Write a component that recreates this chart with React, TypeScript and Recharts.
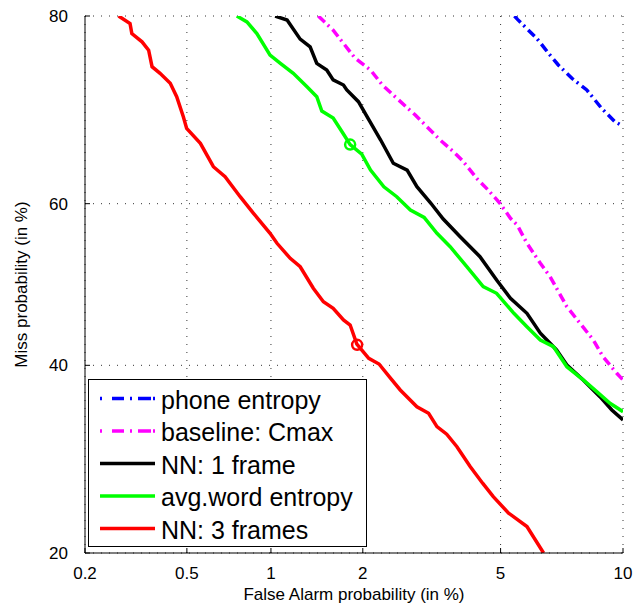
import React from "react";
import {
  ComposedChart,
  Line,
  XAxis,
  YAxis,
  CartesianGrid,
  ReferenceDot,
  Label,
} from "recharts";

const FONT = "'Liberation Sans', Arial, Helvetica, sans-serif";

const X_TICKS = [0.2, 0.5, 1, 2, 5, 10];
const Y_TICKS = [20, 40, 60, 80];

// [false alarm %, miss %]
const PHONE_ENTROPY = [
  [5.44, 80], [5.54, 79.7], [6.21, 77.98], [6.65, 76.56], [7.03, 75.43],
  [7.59, 74.1], [8.24, 72.9], [8.93, 70.96], [9.59, 69.5], [10, 69.03],
];
const BASELINE_CMAX = [
  [1.442, 80], [1.611, 78.73], [1.738, 77.51], [1.893, 76.09], [2.114, 74.93],
  [2.298, 73.41], [2.51, 72.2], [2.885, 70.24], [3.12, 68.95], [3.406, 67.47],
  [3.717, 66.14], [3.961, 64.99], [4.312, 63.03], [4.633, 61.64], [4.98, 60.05],
  [5.31, 58.22], [5.53, 57.4], [5.86, 55.14], [6.34, 52.65], [6.71, 50.97],
  [7.38, 47.22], [7.94, 45.16], [8.54, 43.1], [9.0, 41.05], [9.68, 39.04],
  [10, 38.24],
];
const NN_1_FRAME = [
  [1.034, 80], [1.135, 79.64], [1.256, 77.91], [1.355, 77.18], [1.425, 75.59],
  [1.536, 74.93], [1.611, 73.93], [1.738, 73.41], [1.781, 72.9], [1.938, 71.67],
  [2.062, 70.05], [2.271, 67.47], [2.481, 64.8], [2.729, 64.01], [2.917, 62.04],
  [3.191, 60.14], [3.476, 58.13], [3.88, 55.95], [4.4, 53.47], [4.88, 50.56],
  [5.31, 48.27], [5.86, 46.4], [6.34, 43.93], [6.96, 41.87], [7.38, 40.04],
  [8.08, 38.24], [8.85, 36.26], [9.43, 34.7], [10, 33.56],
];
const AVG_WORD_ENTROPY = [
  [0.76, 80], [0.825, 79.48], [0.894, 78.43], [0.993, 76.4], [1.077, 75.59],
  [1.191, 74.6], [1.323, 73.23], [1.425, 72.2], [1.48, 70.67], [1.611, 69.91],
  [1.738, 68.14], [1.825, 66.95], [1.985, 65.87], [2.114, 64.0], [2.323, 62.03],
  [2.541, 60.84], [2.791, 59.23], [3.062, 58.32], [3.335, 56.37], [3.637, 54.72],
  [4.048, 52.22], [4.49, 49.73], [4.88, 48.9], [5.42, 46.4], [5.86, 44.74],
  [6.34, 43.1], [6.84, 42.27], [7.38, 39.83], [8.08, 38.24], [8.7, 36.85],
  [9.34, 35.48], [10, 34.51],
];
const NN_3_FRAMES = [
  [0.273, 80], [0.303, 79.34], [0.308, 78.43], [0.3375, 77.66], [0.358, 76.87],
  [0.369, 75.26], [0.396, 74.6], [0.433, 73.59], [0.458, 72.2], [0.485, 70.05],
  [0.499, 68.77], [0.561, 67.09], [0.626, 64.4], [0.69, 63.22], [0.781, 60.84],
  [0.87, 58.83], [0.993, 56.37], [1.049, 55.14], [1.163, 53.27], [1.256, 52.22],
  [1.388, 49.53], [1.498, 47.85], [1.611, 47.03], [1.738, 45.57], [1.825, 44.95],
  [1.916, 42.6], [2.087, 40.85], [2.245, 40.16], [2.429, 38.48], [2.603, 37.05],
  [2.917, 35.08], [3.155, 34.32], [3.335, 32.8], [3.556, 31.95], [3.8, 30.56],
  [4.135, 28.41], [4.474, 26.67], [4.78, 25.3], [5.25, 23.68], [5.86, 22.4],
  [6.46, 20],
];

// operating points (circles)
const AVG_WORD_POINT = [1.825, 66.95];
const NN_3_POINT = [1.92, 42.5];

const SERIES = [
  { name: "phone entropy", data: PHONE_ENTROPY, color: "#0000FF", dash: "9 4 2 4.5" },
  { name: "baseline: Cmax", data: BASELINE_CMAX, color: "#FF00FF", dash: "9 4 2 4.5" },
  { name: "NN: 1 frame", data: NN_1_FRAME, color: "#000000", dash: undefined },
  { name: "avg.word entropy", data: AVG_WORD_ENTROPY, color: "#00FF00", dash: undefined },
  { name: "NN: 3 frames", data: NN_3_FRAMES, color: "#FF0000", dash: undefined },
];

// inverse of the standard normal CDF (Acklam)
function probit(p: number): number {
  const a = [-39.69683028665376, 220.9460984245205, -275.9285104469687, 138.357751867269, -30.66479806614716, 2.506628277459239];
  const b = [-54.47609879822406, 161.5858368580409, -155.6989798598866, 66.80131188771972, -13.28068155288572];
  const c = [-0.007784894002430293, -0.3223964580411365, -2.400758277161838, -2.549732539343734, 4.374664141464968, 2.938163982698783];
  const d = [0.007784695709041462, 0.3224671290700398, 2.445134137142996, 3.754408661907416];
  const pl = 0.02425;
  if (p < pl) {
    const q = Math.sqrt(-2 * Math.log(p));
    return (((((c[0] * q + c[1]) * q + c[2]) * q + c[3]) * q + c[4]) * q + c[5]) /
      ((((d[0] * q + d[1]) * q + d[2]) * q + d[3]) * q + 1);
  }
  if (p > 1 - pl) {
    const q = Math.sqrt(-2 * Math.log(1 - p));
    return -(((((c[0] * q + c[1]) * q + c[2]) * q + c[3]) * q + c[4]) * q + c[5]) /
      ((((d[0] * q + d[1]) * q + d[2]) * q + d[3]) * q + 1);
  }
  const q = p - 0.5;
  const r = q * q;
  return ((((((a[0] * r + a[1]) * r + a[2]) * r + a[3]) * r + a[4]) * r + a[5]) * q) /
    (((((b[0] * r + b[1]) * r + b[2]) * r + b[3]) * r + b[4]) * r + 1);
}

const toDet = (pts: number[][]) =>
  pts.map(([fa, miss]) => ({ x: probit(fa / 100), y: probit(miss / 100) }));

const X_DOMAIN = [probit(X_TICKS[0] / 100), probit(X_TICKS[X_TICKS.length - 1] / 100)];
const Y_DOMAIN = [probit(Y_TICKS[0] / 100), probit(Y_TICKS[Y_TICKS.length - 1] / 100)];
const X_TICK_POS = X_TICKS.map((v) => probit(v / 100));
const Y_TICK_POS = Y_TICKS.map((v) => probit(v / 100));

const TICK_LEN = 5;
const X_MARGIN = 14;
const Y_MARGIN = 17;

const BottomTick = (props: any) => {
  const { x, y, index } = props;
  const axisY = y - X_MARGIN;
  return (
    <g>
      <line x1={x} x2={x} y1={axisY} y2={axisY - TICK_LEN} stroke="#000" />
      <text x={x} y={y} dy="0.71em" textAnchor="middle" fontSize={17} fontFamily={FONT} fill="#000">
        {String(X_TICKS[index])}
      </text>
    </g>
  );
};

const LeftTick = (props: any) => {
  const { x, y, index } = props;
  const axisX = x + Y_MARGIN;
  return (
    <g>
      <line x1={axisX} x2={axisX + TICK_LEN} y1={y} y2={y} stroke="#000" />
      <text x={x} y={y} dy="0.355em" textAnchor="end" fontSize={17} fontFamily={FONT} fill="#000">
        {String(Y_TICKS[index])}
      </text>
    </g>
  );
};

const TopTick = (props: any) => {
  const { x, y } = props;
  return <line x1={x} x2={x} y1={y} y2={y + TICK_LEN} stroke="#000" />;
};

const RightTick = (props: any) => {
  const { x, y } = props;
  return <line x1={x} x2={x - TICK_LEN} y1={y} y2={y} stroke="#000" />;
};

const XTitle = (props: any) => {
  const vb = props.viewBox;
  return (
    <text x={vb.x + vb.width / 2} y={vb.y + 47} textAnchor="middle" fontSize={17} fontFamily={FONT} fill="#000">
      False Alarm probability (in %)
    </text>
  );
};

const YTitle = (props: any) => {
  const vb = props.viewBox;
  const cx = vb.x + 21;
  const cy = vb.y + vb.height / 2;
  return (
    <text
      x={cx}
      y={cy}
      transform={`rotate(-90 ${cx} ${cy})`}
      textAnchor="middle"
      dominantBaseline="central"
      fontSize={17}
      fontFamily={FONT}
      fill="#000"
    >
      Miss probability (in %)
    </text>
  );
};

const LegendBox = () => (
  <svg
    width={280}
    height={169}
    style={{ position: "absolute", left: 88, top: 379 }}
  >
    <rect x={0.5} y={0.5} width={278} height={167} fill="#fff" stroke="#000" />
    {SERIES.map((s, i) => (
      <g key={s.name}>
        <line
          x1={12}
          x2={67}
          y1={19.5 + 32.5 * i}
          y2={19.5 + 32.5 * i}
          stroke={s.color}
          strokeWidth={3.5}
          strokeDasharray={s.dash ? "2 10 12 6 2 6 13" : undefined}
        />
        <text x={73} y={29.5 + 32.5 * i} fontSize={25} fontFamily={FONT} fill="#000">
          {s.name}
        </text>
      </g>
    ))}
  </svg>
);

export default function App() {
  return (
    <div style={{ position: "absolute", left: 0, top: 0, width: 636, height: 605, background: "#fff" }}>
      <ComposedChart width={636} height={605} margin={{ top: 16, right: 13, bottom: 0, left: 0 }}>
        <CartesianGrid stroke="#333" strokeDasharray="1 7" />
        <XAxis
          type="number"
          dataKey="x"
          domain={X_DOMAIN}
          ticks={X_TICK_POS}
          interval={0}
          allowDataOverflow
          height={52}
          tickSize={0}
          tickMargin={X_MARGIN}
          tickLine={false}
          axisLine={{ stroke: "#000" }}
          tick={<BottomTick />}
        >
          <Label content={<XTitle />} />
        </XAxis>
        <XAxis
          xAxisId="top"
          orientation="top"
          type="number"
          dataKey="x"
          domain={X_DOMAIN}
          ticks={X_TICK_POS}
          interval={0}
          allowDataOverflow
          height={0}
          tickSize={0}
          tickMargin={0}
          tickLine={false}
          axisLine={{ stroke: "#000" }}
          tick={<TopTick />}
        />
        <YAxis
          type="number"
          domain={Y_DOMAIN}
          ticks={Y_TICK_POS}
          interval={0}
          allowDataOverflow
          width={85}
          tickSize={0}
          tickMargin={Y_MARGIN}
          tickLine={false}
          axisLine={{ stroke: "#000" }}
          tick={<LeftTick />}
        >
          <Label content={<YTitle />} />
        </YAxis>
        <YAxis
          yAxisId="right"
          orientation="right"
          type="number"
          domain={Y_DOMAIN}
          ticks={Y_TICK_POS}
          interval={0}
          allowDataOverflow
          width={0}
          tickSize={0}
          tickMargin={0}
          tickLine={false}
          axisLine={{ stroke: "#000" }}
          tick={<RightTick />}
        />
        {SERIES.map((s) => (
          <Line
            key={s.name}
            data={toDet(s.data)}
            dataKey="y"
            type="linear"
            stroke={s.color}
            strokeWidth={3.5}
            strokeDasharray={s.dash}
            dot={false}
            activeDot={false}
            isAnimationActive={false}
          />
        ))}
        <ReferenceDot
          x={probit(AVG_WORD_POINT[0] / 100)}
          y={probit(AVG_WORD_POINT[1] / 100)}
          r={5}
          fill="none"
          stroke="#00FF00"
          strokeWidth={2.5}
        />
        <ReferenceDot
          x={probit(NN_3_POINT[0] / 100)}
          y={probit(NN_3_POINT[1] / 100)}
          r={5}
          fill="none"
          stroke="#FF0000"
          strokeWidth={2.5}
        />
      </ComposedChart>
      <LegendBox />
    </div>
  );
}
